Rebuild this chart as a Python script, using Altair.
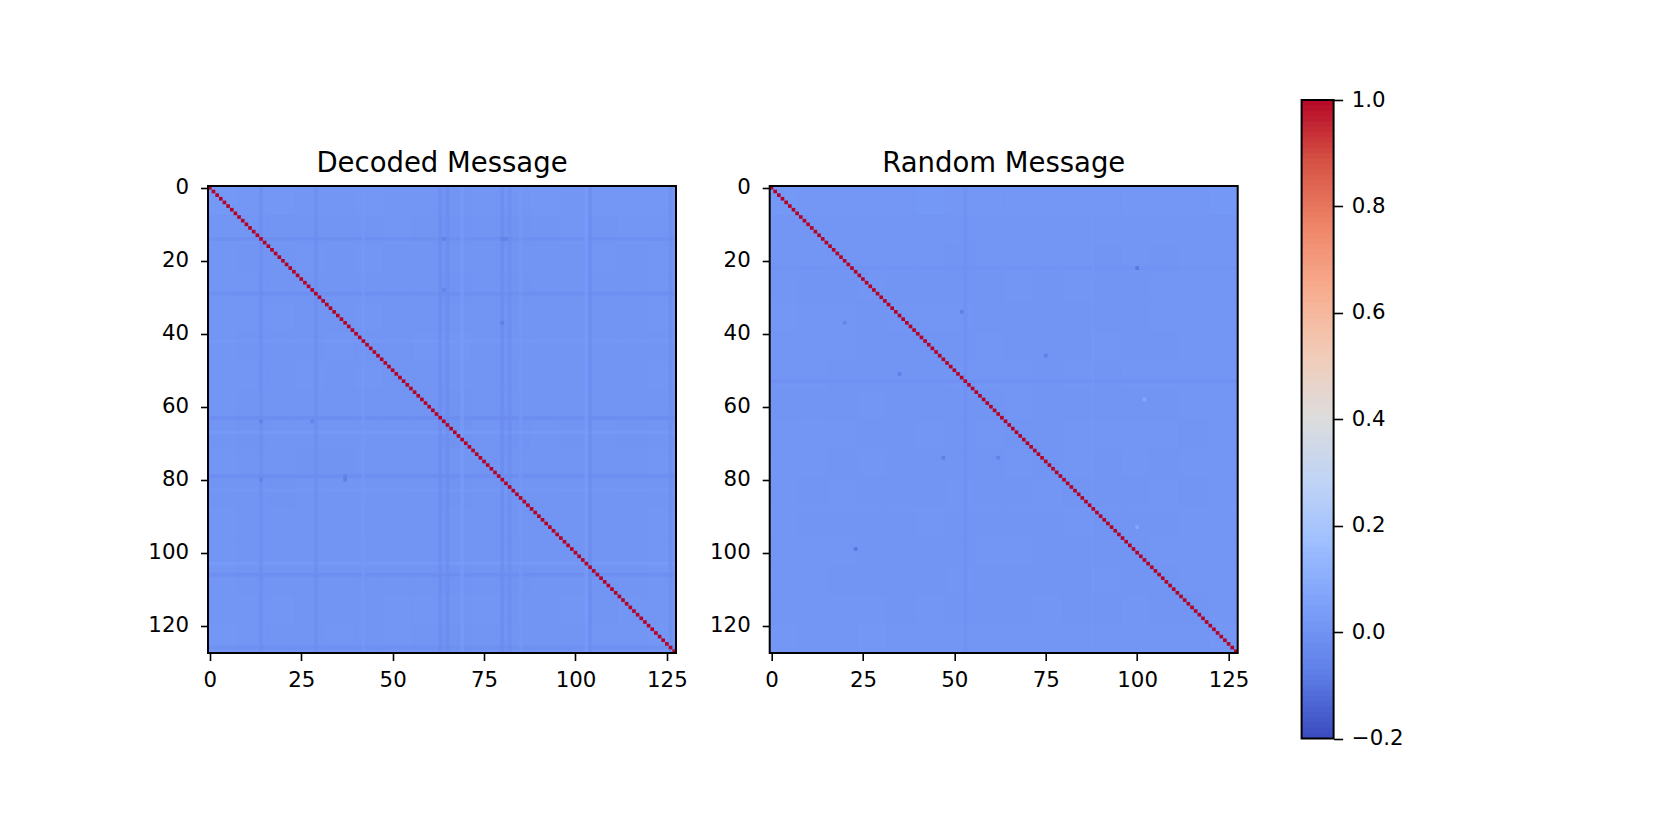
import altair as alt
import pandas as pd

N = 128
BLOCK = 8
TITLES = ["Decoded Message", "Random Message"]
X_TICKS = [0, 25, 50, 75, 100, 125]
Y_TICKS = [0, 20, 40, 60, 80, 100, 120]
CB_TICKS = [-0.2, 0.0, 0.2, 0.4, 0.6, 0.8, 1.0]
COOLWARM = ["#3b4cc0", "#5f7fe8", "#7b9ff9", "#9ebeff", "#c0d4f5", "#dddcdc",
            "#f2cbb7", "#f7ac8e", "#ee8468", "#d65244", "#b40426"]
CB_DOMAIN = [-0.2, -0.08, 0.04, 0.16, 0.28, 0.4, 0.52, 0.64, 0.76, 0.88, 1.0]

# Estimated local means (8x8 cell blocks)
DECODED = [
    [.012,.010,.008,.006,.004,.008,.006,.004,.002,.006,.006,.008,.006,.008,.008,.010],
    [.006,.004,.000,.002,.000,.002,.004,.000,-.004,.002,-.002,.002,.004,.002,.004,.006],
    [.006,.002,.002,.004,.002,.004,.000,.002,.000,.000,.002,.000,.002,.004,.002,.006],
    [.006,.004,.002,.002,.000,.002,.000,.000,-.004,.000,-.002,.000,.002,.002,.002,.004],
    [.004,.004,.004,.002,.002,.004,.002,.002,.000,.000,.002,.002,.000,.002,.002,.004],
    [.004,.002,.002,.000,.004,.002,.002,.004,.004,.002,.000,.002,.000,.000,.000,.002],
    [.006,.004,.002,.004,.002,.004,.002,.000,.000,.002,.002,.000,.002,.002,.002,.004],
    [.004,.000,.000,.002,.002,.000,.002,.000,-.002,.000,.000,.000,.000,.002,.000,.002],
    [.002,-.002,.000,.000,.002,.002,.000,.000,-.006,.002,-.004,.000,-.002,.000,-.002,.002],
    [.004,.000,.000,-.002,-.002,.000,.000,.002,.000,.000,.000,.000,.002,.000,.000,.004],
    [.002,.000,-.002,.002,.000,.002,.002,.000,-.002,.000,.000,.002,.000,.002,.000,.002],
    [.004,.002,.002,.000,.002,.000,.000,.000,.000,.000,.002,.000,.002,.000,.002,.004],
    [.004,.002,.000,.000,.002,.002,.000,.002,.000,.000,.000,.002,.000,.000,.002,.004],
    [.006,.002,.002,.000,.000,.000,.002,.000,-.004,.002,-.002,.000,.000,.002,.002,.006],
    [.006,.004,.004,.002,.002,.002,.004,.004,.002,.004,.002,.002,.004,.002,.004,.006],
    [.008,.004,.002,.002,.004,.002,.004,.002,-.002,.000,.000,.000,.002,.004,.004,.008],
]
RANDOM = [
    [.012,.010,.010,.010,.010,.012,.008,.008,.008,.008,.010,.008,.010,.010,.010,.012],
    [.006,.006,.004,.004,.006,.004,.004,.004,.004,.006,.004,.004,.004,.006,.004,.006],
    [.006,.004,.006,.004,.004,.004,.002,.004,.004,.004,.004,.002,.004,.002,.006,.006],
    [.004,.002,.002,.004,.002,.002,.002,.002,.004,.002,.004,.002,.002,.004,.004,.004],
    [.008,.006,.004,.002,.004,.004,.004,.002,.002,.002,.000,.002,.002,.004,.004,.004],
    [.006,.004,.004,.002,.002,.002,.002,.004,.002,.002,.002,.004,.002,.002,.004,.006],
    [.004,.004,.002,.002,.002,.002,.004,.004,.004,.002,.004,.002,.004,.004,.004,.004],
    [.002,.002,.002,.004,.002,.002,.002,.002,.004,.002,.002,.002,.002,.002,.004,.004],
    [.004,.006,.004,.002,.002,.004,.002,.004,.002,.002,.004,.004,.004,.004,.002,.006],
    [.006,.004,.002,.004,.002,.002,.002,.002,.004,.002,.004,.002,.004,.002,.004,.004],
    [.004,.002,.004,.002,.002,.002,.004,.002,.002,.004,.002,.002,.002,.004,.002,.004],
    [.006,.002,.002,.002,.000,.004,.002,.002,.002,.002,.004,.002,.002,.002,.004,.006],
    [.004,.004,.004,.002,.002,.002,.002,.004,.004,.002,.002,.002,.002,.004,.004,.004],
    [.006,.004,.002,.002,.002,.002,.004,.002,.002,.002,.002,.004,.002,.002,.004,.006],
    [.004,.004,.004,.004,.002,.004,.002,.002,.002,.004,.002,.002,.004,.002,.002,.004],
    [.008,.006,.006,.008,.006,.006,.006,.004,.006,.006,.004,.004,.004,.006,.006,.008],
]

# Rows / columns that visibly stand out (index, value)
DECODED_ROW_BANDS = [(14, -.03), (29, -.03), (42, .02), (63, -.035), (67, .03),
                     (79, -.035), (83, .02), (103, .03), (106, -.035), (126, -.03)]
DECODED_COL_BANDS = [(14, -.03), (29, -.03), (42, .02), (63, -.035), (65, -.035), (69, .03),
                     (80, -.035), (82, -.03), (85, .02), (103, .03), (104, -.035), (126, -.03)]
RANDOM_ROW_BANDS = [(22, -.012), (53, -.015), (88, .012)]
RANDOM_COL_BANDS = [(53, -.015), (88, .012)]

# Single cells that stand out (row, column, value)
DECODED_CELLS = [(14, 64, -.07), (14, 80, -.07), (14, 81, -.07), (37, 80, -.08), (80, 37, -.08),
                 (79, 37, -.07), (64, 14, -.07), (80, 14, -.07), (28, 64, -.06), (64, 28, -.06)]
RANDOM_CELLS = [(22, 100, -.10), (99, 23, -.10), (51, 35, -.08), (34, 52, -.08), (46, 75, -.08),
                (74, 47, -.08), (74, 62, -.07), (37, 20, -.06), (93, 100, .07), (58, 102, .07)]

FONT = "DejaVu Sans"
PW, PH = 468, 467
color = alt.Color("v:Q", legend=None,
                  scale=alt.Scale(domain=CB_DOMAIN, range=COOLWARM, clamp=True,
                                  interpolate="rgb"))


def axis(values, fmt, pad, tick=7.5, orient=None):
    kw = dict(values=values, title=None, domain=False, grid=False, tickSize=tick,
              tickWidth=1.6, tickColor="black", labelColor="black", labelFont=FONT,
              labelFontSize=21.3, labelPadding=pad, labelOverlap=False, labelFlush=False,
              labelAngle=0, format=fmt)
    if orient:
        kw["orient"] = orient
    return alt.Axis(**kw)


def panel(grid, row_bands, col_bands, spots, title):
    lo, hi = -0.5, N - 0.5
    rows = []
    for r, row in enumerate(grid):
        for c, val in enumerate(row):
            rows.append({"x": c * BLOCK - 0.5, "x2": (c + 1) * BLOCK - 0.5,
                         "y": r * BLOCK - 0.5, "y2": (r + 1) * BLOCK - 0.5, "v": val})
    bands = [{"x": lo, "x2": hi, "y": i - 0.5, "y2": i + 0.5, "v": v} for i, v in row_bands]
    bands += [{"x": i - 0.5, "x2": i + 0.5, "y": lo, "y2": hi, "v": v} for i, v in col_bands]
    singles = [{"x": c - 0.5, "x2": c + 0.5, "y": r - 0.5, "y2": r + 0.5, "v": v} for r, c, v in spots]
    singles += [{"x": i - 0.5, "x2": i + 0.5, "y": i - 0.5, "y2": i + 0.5, "v": 1.0} for i in range(N)]
    xs = alt.Scale(domain=[lo, hi], nice=False, zero=False)
    ys = alt.Scale(domain=[lo, hi], nice=False, zero=False, reverse=True)
    xe = alt.X("x:Q", scale=xs, axis=axis(X_TICKS, "d", 9))
    ye = alt.Y("y:Q", scale=ys, axis=axis(Y_TICKS, "d", 12))
    cells = alt.Chart(pd.DataFrame(rows)).mark_rect(strokeWidth=0).encode(
        x=xe, x2="x2:Q", y=ye, y2="y2:Q", color=color)
    stripes = alt.Chart(pd.DataFrame(bands)).mark_rect(strokeWidth=0, opacity=0.6).encode(
        x=xe, x2="x2:Q", y=ye, y2="y2:Q", color=color)
    spots_l = alt.Chart(pd.DataFrame(singles)).mark_rect(strokeWidth=0).encode(
        x=xe, x2="x2:Q", y=ye, y2="y2:Q", color=color)
    frame = alt.Chart(pd.DataFrame({"x": [lo], "x2": [hi], "y": [lo], "y2": [hi]})
                      ).mark_rect(fillOpacity=0, stroke="black", strokeWidth=2).encode(
        x=xe, x2="x2:Q", y=ye, y2="y2:Q")
    return alt.layer(cells, stripes, spots_l, frame).properties(
        width=PW, height=PH,
        view=alt.ViewBackground(fill="#7194f3", stroke=None),
        title=alt.TitleParams(title, font=FONT, fontSize=27.5, fontWeight="normal",
                              color="black", offset=-1, anchor="middle"),
    )


# colour bar
steps = [round(-0.2 + i * 0.01, 3) for i in range(120)]
cb_df = pd.DataFrame({"a": [0] * len(steps), "b": [1] * len(steps), "v": steps,
                      "top": [round(s + 0.012, 3) for s in steps]})
cbx = alt.Scale(domain=[0, 1], nice=False, zero=False)
cby = alt.Scale(domain=[-0.2, 1.0], nice=False, zero=False)
cb_y = alt.Y("v:Q", scale=cby, axis=axis(CB_TICKS, ".1f", 8.7, 9, "right"))
cb_bar = alt.Chart(cb_df).mark_rect(strokeWidth=0).encode(
    x=alt.X("a:Q", scale=cbx, axis=None), x2="b:Q", y=cb_y, y2="top:Q", color=color)
cb_frame = alt.Chart(pd.DataFrame({"a": [0], "b": [1], "v": [-0.2], "top": [1.0]})).mark_rect(
    fillOpacity=0, stroke="black", strokeWidth=2).encode(
    x=alt.X("a:Q", scale=cbx, axis=None), x2="b:Q", y=cb_y, y2="top:Q")
colorbar = alt.layer(cb_bar, cb_frame).properties(
    width=32, height=638.5, view=alt.ViewBackground(stroke=None))

spacer = alt.Chart(pd.DataFrame({"a": [0]})).mark_point(opacity=0).encode(
    x=alt.X("a:Q", axis=None), y=alt.Y("a:Q", axis=None)
).properties(width=1, height=86, view=alt.ViewBackground(stroke=None))

panels = alt.hconcat(panel(DECODED, DECODED_ROW_BANDS, DECODED_COL_BANDS, DECODED_CELLS, TITLES[0]),
                     panel(RANDOM, RANDOM_ROW_BANDS, RANDOM_COL_BANDS, RANDOM_CELLS, TITLES[1]),
                     spacing=93.7, bounds="flush")
left = alt.vconcat(spacer, panels, spacing=0, bounds="flush")
chart = alt.hconcat(left, colorbar, spacing=51.6).properties(
    padding={"left": 139, "top": 81, "right": 0, "bottom": 0},
    background="white",
)
chart.save("out.html", embed_options={"renderer": "svg", "actions": False})
